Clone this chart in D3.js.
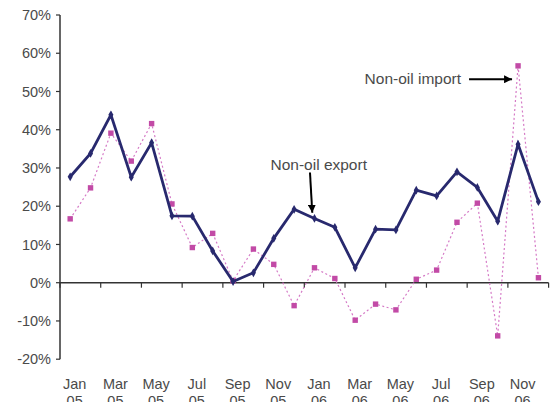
<!DOCTYPE html>
<html>
<head>
<meta charset="utf-8">
<script src="https://cdn.jsdelivr.net/npm/d3@7"></script>
<style>
  body { margin: 0; background: #fff; }
  text { font-family: "Liberation Sans", Arial, sans-serif; fill: #4a4a4a; }
</style>
</head>
<body>
<div id="chart"></div>
<script>
(function(d3) {
  'use strict';

  var months = ['Jan 05', 'Feb 05', 'Mar 05', 'Apr 05', 'May 05', 'Jun 05',
    'Jul 05', 'Aug 05', 'Sep 05', 'Oct 05', 'Nov 05', 'Dec 05',
    'Jan 06', 'Feb 06', 'Mar 06', 'Apr 06', 'May 06', 'Jun 06',
    'Jul 06', 'Aug 06', 'Sep 06', 'Oct 06', 'Nov 06', 'Dec 06'];

  // y/y growth, %
  var exportGrowth = [27.7, 33.8, 43.9, 27.6, 36.6, 17.5, 17.4, 8.3, 0.3, 2.6, 11.6, 19.2,
    16.8, 14.5, 3.9, 14.0, 13.8, 24.2, 22.7, 29.0, 24.9, 16.1, 36.2, 21.2];
  var importGrowth = [16.7, 24.8, 39.1, 31.8, 41.6, 20.6, 9.2, 12.9, 0.5, 8.8, 4.8, -6.0,
    3.9, 1.1, -9.8, -5.6, -7.1, 0.9, 3.3, 15.8, 20.8, -13.9, 56.7, 1.3];

  var yTicks = [-20, -10, 0, 10, 20, 30, 40, 50, 60, 70];

  var width = 555;
  var height = 402;
  var navy = '#28296e';
  var pink = '#c24aa6';

  var svg = d3.select('#chart')
    .append('svg')
    .attr('width', width)
    .attr('height', height);

  var x = d3.scaleBand()
    .domain(months)
    .range([60, 548.6])
    .padding(0);

  var y = d3.scaleLinear()
    .domain([-20, 70])
    .range([359.2, 15]);

  function cx(d) { return x(d) + x.bandwidth() / 2; }

  // y axis
  svg.append('line')
    .attr('x1', 60).attr('x2', 60)
    .attr('y1', y(70)).attr('y2', y(-20))
    .attr('stroke', '#333').attr('stroke-width', 1.5);

  var yt = svg.selectAll('.ytick')
    .data(yTicks)
    .enter()
    .append('g')
    .attr('class', 'ytick')
    .attr('transform', function(d) { return 'translate(0,' + y(d) + ')'; });

  yt.append('line')
    .attr('x1', 56).attr('x2', 60)
    .attr('stroke', '#333').attr('stroke-width', 1.2);

  yt.append('text')
    .attr('x', 51)
    .attr('dy', '0.36em')
    .attr('text-anchor', 'end')
    .style('font-size', '14.5px')
    .text(function(d) { return d + '%'; });

  // x axis at 0%
  svg.append('line')
    .attr('x1', 60).attr('x2', x.range()[1])
    .attr('y1', y(0)).attr('y2', y(0))
    .attr('stroke', '#333').attr('stroke-width', 1.5);

  var tickMonths = months.filter(function(d, i) { return i % 2 === 0; });

  svg.selectAll('.xtick')
    .data(tickMonths.map(function(d) { return x(d); }).concat([x.range()[1]]))
    .enter()
    .append('line')
    .attr('class', 'xtick')
    .attr('x1', function(d) { return d; })
    .attr('x2', function(d) { return d; })
    .attr('y1', y(0))
    .attr('y2', y(0) + 5)
    .attr('stroke', '#333').attr('stroke-width', 1.2);

  var xl = svg.selectAll('.xlabel')
    .data(tickMonths)
    .enter()
    .append('text')
    .attr('class', 'xlabel')
    .attr('text-anchor', 'middle')
    .style('font-size', '14.5px')
    .attr('transform', function(d) { return 'translate(' + (cx(d) + 4.5) + ',389)'; });

  xl.append('tspan')
    .attr('x', 0)
    .text(function(d) { return d.split(' ')[0]; });
  xl.append('tspan')
    .attr('x', 0)
    .attr('dy', 17)
    .text(function(d) { return d.split(' ')[1]; });

  // import: dotted line + square markers
  var importLine = d3.line()
    .x(function(d, i) { return cx(months[i]); })
    .y(function(d) { return y(d); });

  svg.append('path')
    .attr('d', importLine(importGrowth))
    .attr('fill', 'none')
    .attr('stroke', '#d57ac6')
    .attr('stroke-width', 1.2)
    .attr('stroke-dasharray', '2,2.5');

  svg.selectAll('.imp')
    .data(importGrowth)
    .enter()
    .append('rect')
    .attr('class', 'imp')
    .attr('x', function(d, i) { return cx(months[i]) - 2.7; })
    .attr('y', function(d) { return y(d) - 2.7; })
    .attr('width', 5.4)
    .attr('height', 5.4)
    .attr('fill', pink);

  // export: solid line + diamond markers
  var exportLine = d3.line()
    .x(function(d, i) { return cx(months[i]); })
    .y(function(d) { return y(d); });

  svg.append('path')
    .attr('d', exportLine(exportGrowth))
    .attr('fill', 'none')
    .attr('stroke', navy)
    .attr('stroke-width', 2.8)
    .attr('stroke-linejoin', 'miter');

  svg.selectAll('.exp')
    .data(exportGrowth)
    .enter()
    .append('path')
    .attr('class', 'exp')
    .attr('d', d3.symbol().type(d3.symbolDiamond).size(22))
    .attr('transform', function(d, i) { return 'translate(' + cx(months[i]) + ',' + y(d) + ')'; })
    .attr('fill', navy);

  // annotations
  svg.append('defs').append('marker')
    .attr('id', 'head')
    .attr('viewBox', '0 0 10 10')
    .attr('refX', 10).attr('refY', 5)
    .attr('markerWidth', 4).attr('markerHeight', 4)
    .attr('markerUnits', 'strokeWidth')
    .attr('orient', 'auto')
    .append('path')
    .attr('d', 'M0,0L10,5L0,10z')
    .attr('fill', '#000');

  var impX = cx('Nov 06');
  svg.append('text')
    .attr('x', impX - 57)
    .attr('y', y(53.2) + 5)
    .attr('text-anchor', 'end')
    .style('font-size', '15.5px')
    .text('Non-oil import');
  svg.append('line')
    .attr('x1', impX - 49).attr('x2', impX - 6)
    .attr('y1', y(53.2)).attr('y2', y(53.2))
    .attr('stroke', '#000').attr('stroke-width', 2)
    .attr('marker-end', 'url(#head)');

  var expX = cx('Jan 06');
  svg.append('text')
    .attr('x', expX - 44)
    .attr('y', y(29.5))
    .style('font-size', '15.5px')
    .text('Non-oil export');
  svg.append('line')
    .attr('x1', expX - 4.5).attr('x2', expX - 2.2)
    .attr('y1', y(28.8)).attr('y2', y(18.3))
    .attr('stroke', '#000').attr('stroke-width', 2)
    .attr('marker-end', 'url(#head)');

})(window.d3);
</script>
</body>
</html>
